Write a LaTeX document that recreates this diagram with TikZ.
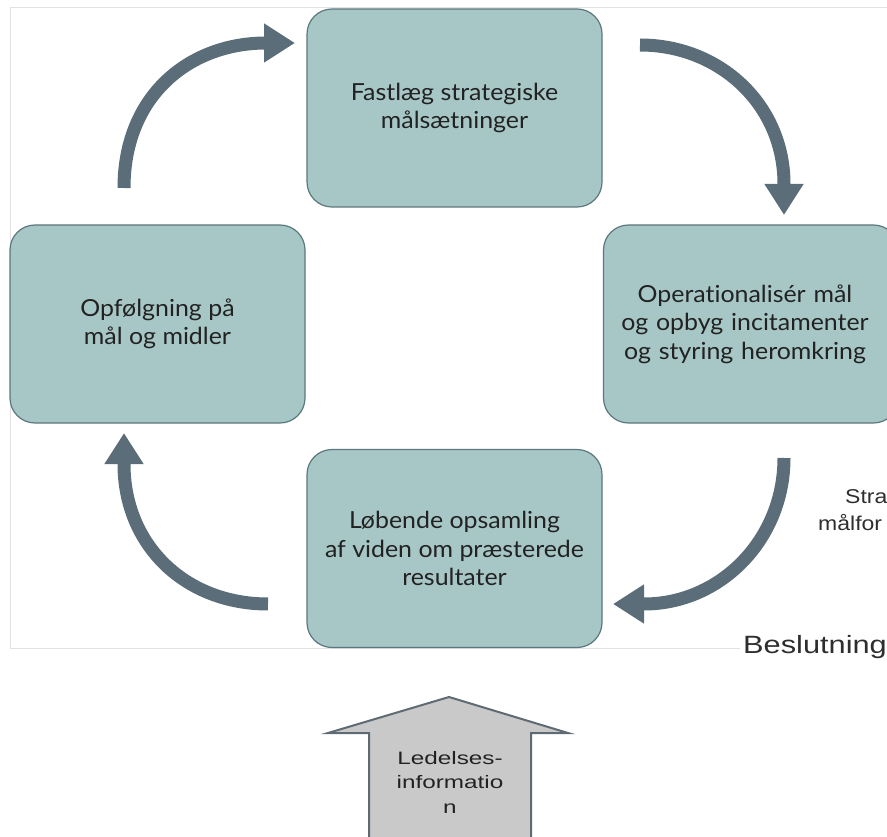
\documentclass[tikz,border=0pt]{standalone}
\usepackage{fontspec}
\setmainfont{Lato}[Ligatures=NoCommon, FakeStretch=1.06]
\newfontfamily\arialf{Liberation Sans}
\usetikzlibrary{arrows.meta}
\definecolor{boxfill}{HTML}{A7C7C6}
\definecolor{boxline}{HTML}{5C777E}
\definecolor{arrowc}{HTML}{5A6D78}
\definecolor{framec}{HTML}{E2E2E2}
\definecolor{bafill}{HTML}{C9C9C9}
\definecolor{baline}{HTML}{5F6B73}
\definecolor{txt}{HTML}{222222}
\definecolor{sidetxt}{HTML}{2E2E2E}
\tikzset{
  stagebox/.style={draw=boxline, line width=1.2pt, fill=boxfill, rounded corners=25pt,
    minimum width=295pt, minimum height=198pt, align=center, text=txt,
    font=\fontsize{23.5}{28.5}\selectfont, inner sep=0pt},
  cyclearrow/.style={draw=arrowc, line width=13pt,
    -{Triangle[length=31pt,width=37pt]}},
  sidetext/.style={anchor=base west, text=sidetxt, font=\arialf\fontsize{20}{27}\selectfont, inner sep=0pt},
}
\begin{document}
\begin{tikzpicture}[x=1pt,y=-1pt]
\useasboundingbox (0,0) rectangle (887,837);
\begin{scope}
\clip (0,0) rectangle (887,837);
% frame lines
\draw[framec, line width=0.8pt] (10,648) -- (10,7) -- (887,7);
\draw[framec, line width=0.8pt] (10,648) -- (740,648);
% boxes
\node[stagebox] (top) at (454.5,108) {Fastlæg strategiske\\målsætninger};
\node[stagebox] (left) at (157.5,324) {Opfølgning på\\mål og midler};
\node[stagebox, text width=283pt, minimum width=295pt] (right) at (751,324) {\hspace*{-12pt}Operationalisér mål\\\hspace*{-12pt}og opbyg incitamenter\\\hspace*{-12pt}og styring heromkring};
\node[stagebox] (bottom) at (454.5,548.5) {Løbende opsamling\\af viden om præsterede\\resultater};
% arrow coordinates
\coordinate (a1s) at (124,188); \coordinate (a1m) at (266,43); \coordinate (a1e) at (295,43);
\coordinate (a2s) at (640,45); \coordinate (a2m) at (784,184); \coordinate (a2e) at (784,215);
\coordinate (a3s) at (784,458); \coordinate (a3m) at (644,604); \coordinate (a3e) at (613,604);
\coordinate (a4s) at (268,604); \coordinate (a4m) at (124,464); \coordinate (a4e) at (124,433);
\draw[cyclearrow] (a1s) .. controls (124,95) and (190,43) .. (a1m) -- (a1e);
\draw[cyclearrow] (a2s) .. controls (720,45) and (784,105) .. (a2m) -- (a2e);
\draw[cyclearrow] (a3s) .. controls (784,540) and (720,604) .. (a3m) -- (a3e);
\draw[cyclearrow] (a4s) .. controls (185,604) and (124,545) .. (a4m) -- (a4e);
% side texts (cut off at the right edge)
\node[sidetext] (stra) at (845,503) {\scalebox{1.15}[1]{Stra}};
\node[sidetext] (malf) at (818,530) {\scalebox{1.15}[1]{målfor}};
\node[sidetext, font=\arialf\fontsize{25}{30}\selectfont] (beslut) at (743,653) {\scalebox{1.23}[1]{Beslutning}};
% block arrow
\draw[fill=bafill, draw=baline, line width=2pt, line join=miter]
  (449,697) -- (568,733) -- (531,733) -- (531,850) -- (369,850) -- (369,733) -- (328,733) -- cycle;
\node[align=center, text=txt, font=\arialf\fontsize{18}{24.5}\selectfont, inner sep=0pt] (ledinfo) at (450,782)
  {\scalebox{1.35}[1]{Ledelses-}\\\scalebox{1.35}[1]{informatio}\\\scalebox{1.35}[1]{n}};
\end{scope}
\end{tikzpicture}
\end{document}
